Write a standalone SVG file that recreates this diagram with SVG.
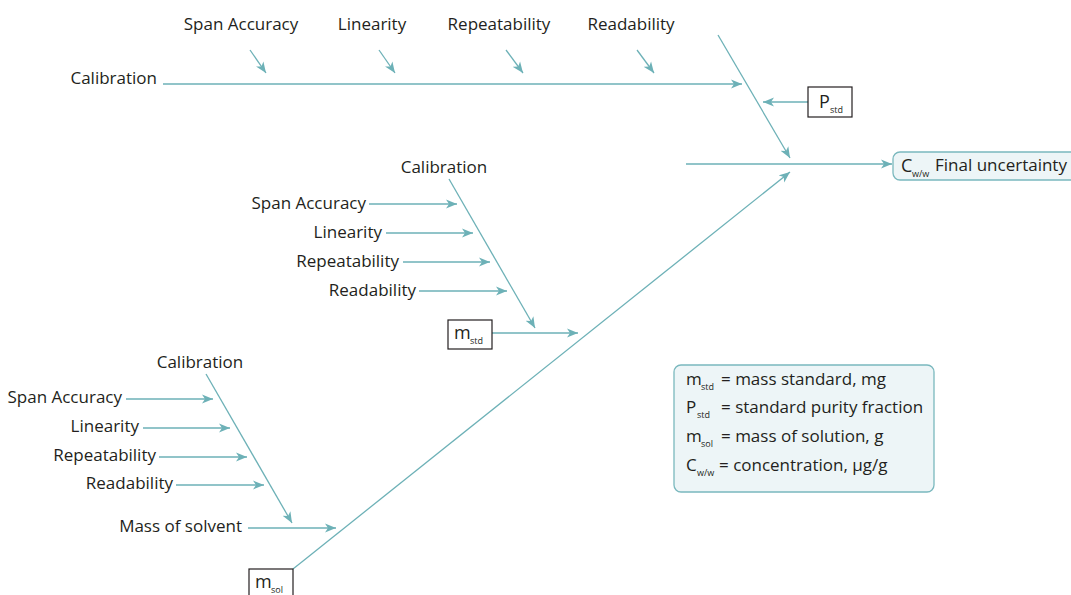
<svg xmlns="http://www.w3.org/2000/svg" width="1071" height="595" viewBox="0 0 1071 595">
<style>
text{font-family:"Open Sans","Liberation Sans",sans-serif;font-size:17px;fill:#231f20}
.big{font-size:18px}
.sub{font-size:9px}
.ln{stroke:#6db1b7;stroke-width:1.3;fill:none}
.arr{marker-end:url(#ah)}
.box{fill:#fff;stroke:#231f20;stroke-width:1.2}
.rbox{fill:#edf5f7;stroke:#7ab8be;stroke-width:1.3}
.r{text-anchor:end}
.m{text-anchor:middle}
</style>
<defs>
<marker id="ah" markerUnits="userSpaceOnUse" markerWidth="12" markerHeight="10" refX="11" refY="5" orient="auto">
<path d="M0,0.5 L11,5 L0,9.5 L3,5 Z" fill="#6db1b7"/>
</marker>
</defs>
<rect width="1071" height="595" fill="#fff"/>
<g id="connectors">
<line class="ln arr" x1="163" y1="84" x2="742" y2="84"/>
<line class="ln arr" x1="250" y1="50" x2="266" y2="73"/>
<line class="ln arr" x1="379" y1="50" x2="395" y2="73"/>
<line class="ln arr" x1="506" y1="50" x2="523" y2="73"/>
<line class="ln arr" x1="637" y1="50" x2="654" y2="73"/>
<line class="ln arr" x1="718" y1="35" x2="790" y2="158"/>
<line class="ln arr" x1="808" y1="102" x2="763" y2="102"/>
<line class="ln arr" x1="686" y1="164" x2="892" y2="164"/>
<line class="ln arr" x1="293" y1="569" x2="790" y2="172"/>
<line class="ln arr" x1="449" y1="179" x2="535" y2="328"/>
<line class="ln arr" x1="369" y1="204" x2="457" y2="204"/>
<line class="ln arr" x1="386" y1="233" x2="473" y2="233"/>
<line class="ln arr" x1="403" y1="262" x2="490" y2="262"/>
<line class="ln arr" x1="419" y1="291" x2="507" y2="291"/>
<line class="ln arr" x1="492" y1="333" x2="578" y2="333"/>
<line class="ln arr" x1="206" y1="374" x2="292" y2="523"/>
<line class="ln arr" x1="126" y1="399" x2="213" y2="399"/>
<line class="ln arr" x1="143" y1="428" x2="230" y2="428"/>
<line class="ln arr" x1="159" y1="457" x2="247" y2="457"/>
<line class="ln arr" x1="176" y1="485" x2="264" y2="485"/>
<line class="ln arr" x1="248" y1="528" x2="336" y2="528"/>
</g>
<g id="top-labels">
<text x="157" y="84" class="r">Calibration</text>
<text x="241" y="30" class="m">Span Accuracy</text>
<text x="372" y="30" class="m">Linearity</text>
<text x="499" y="30" class="m">Repeatability</text>
<text x="631" y="30" class="m">Readability</text>
</g>
<g id="p-std">
<rect class="box" x="808" y="87" width="44" height="30"/>
<text class="big" x="819" y="108">P</text><text class="sub" x="830" y="113">std</text>
</g>
<g id="final">
<rect class="rbox" x="893" y="152" width="190" height="28" rx="7"/>
<text class="big" x="901" y="172">C</text><text class="sub" x="912" y="177">w/w</text>
<text x="935" y="171">Final uncertainty</text>
</g>
<g id="mid-labels">
<text x="444" y="173" class="m">Calibration</text>
<text x="366" y="209" class="r">Span Accuracy</text>
<text x="382" y="238" class="r">Linearity</text>
<text x="399" y="267" class="r">Repeatability</text>
<text x="416" y="296" class="r">Readability</text>
</g>
<g id="m-std">
<rect class="box" x="448" y="320" width="44" height="29"/>
<text class="big" x="454" y="339">m</text><text class="sub" x="470" y="344">std</text>
</g>
<g id="bottom-labels">
<text x="200" y="368" class="m">Calibration</text>
<text x="122" y="403" class="r">Span Accuracy</text>
<text x="139" y="432" class="r">Linearity</text>
<text x="156" y="461" class="r">Repeatability</text>
<text x="173" y="489" class="r">Readability</text>
<text x="242" y="532" class="r">Mass of solvent</text>
</g>
<g id="m-sol">
<rect class="box" x="249" y="569" width="44" height="30"/>
<text class="big" x="255" y="588">m</text><text class="sub" x="271" y="593">sol</text>
</g>
<g id="legend">
<rect class="rbox" x="674" y="365" width="260" height="127" rx="7"/>
<text x="686" y="385">m</text><text class="sub" x="701" y="390">std</text><text x="721" y="385">= mass standard, mg</text>
<text x="686" y="413">P</text><text class="sub" x="697" y="418">std</text><text x="721" y="413">= standard purity fraction</text>
<text x="686" y="442">m</text><text class="sub" x="701" y="447">sol</text><text x="721" y="442">= mass of solution, g</text>
<text x="686" y="471">C</text><text class="sub" x="697" y="476">w/w</text><text x="719" y="471">= concentration, µg/g</text>
</g>
</svg>
